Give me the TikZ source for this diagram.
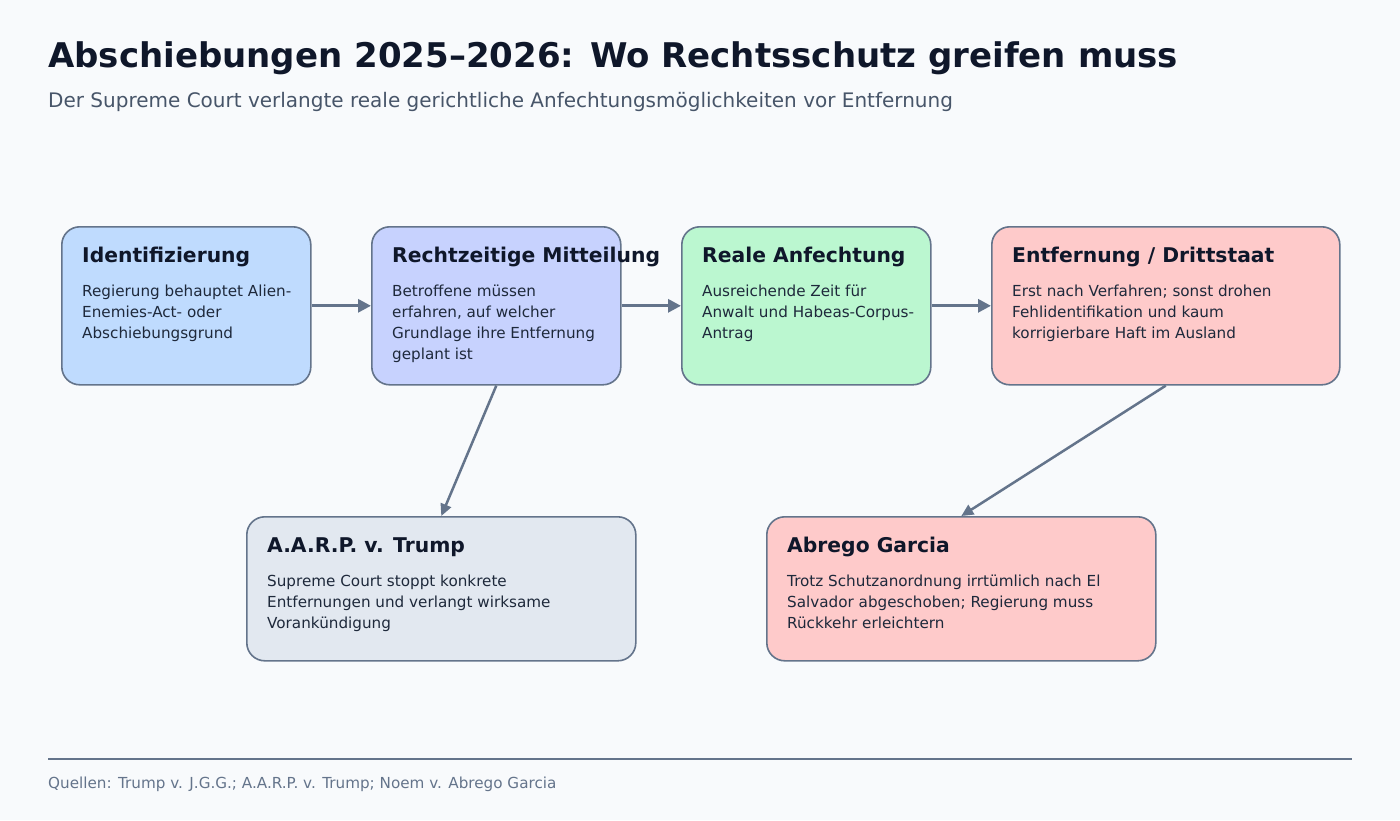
\documentclass[tikz,border=0pt]{standalone}
\usepackage{fontspec}
\setmainfont{DejaVu Sans}
\usetikzlibrary{arrows.meta}
\definecolor{bg}{HTML}{F8FAFC}
\definecolor{ink}{HTML}{0F172A}
\definecolor{txt}{HTML}{1E293B}
\definecolor{sub}{HTML}{475569}
\definecolor{edge}{HTML}{64748B}
\definecolor{cblue}{HTML}{BFDBFE}
\definecolor{cindigo}{HTML}{C7D2FE}
\definecolor{cgreen}{HTML}{BBF7D0}
\definecolor{cred}{HTML}{FECACA}
\definecolor{cslate}{HTML}{E2E8F0}
\tikzset{
  card/.style={draw=edge, line width=1.6pt, rounded corners=18pt, inner sep=0pt, anchor=north west},
  cardtitle/.style={anchor=base west, inner sep=0pt, font=\fontsize{20.3}{24}\selectfont\bfseries, text=ink},
  cardbody/.style={anchor=base west, inner sep=0pt, font=\fontsize{15.2}{21}\selectfont, text=txt, align=left},
  flow/.style={draw=edge, line width=3pt, -{Triangle[length=13pt,width=13pt]}},
  link/.style={draw=edge, line width=2.5pt, -{Triangle[length=12pt,width=11pt]}}
}
\begin{document}
\begin{tikzpicture}[x=1pt,y=-1pt]
\fill[bg] (0,0) rectangle (1400,820);
\useasboundingbox (0,0) rectangle (1400,820);

\node[anchor=base west, inner sep=0pt, font=\fontsize{34}{40}\selectfont\bfseries, text=ink] (title) at (48,67) {Abschiebungen 2025–2026: Wo Rechtsschutz greifen muss};
\node[anchor=base west, inner sep=0pt, font=\fontsize{20}{24}\selectfont, text=sub] (subtitle) at (48,107) {Der Supreme Court verlangte reale gerichtliche Anfechtungsmöglichkeiten vor Entfernung};

% cards
\node[card, fill=cblue, minimum width=249pt, minimum height=158pt] (b1) at (61,226) {};
\node[card, fill=cindigo, minimum width=249pt, minimum height=158pt] (b2) at (371,226) {};
\node[card, fill=cgreen, minimum width=249pt, minimum height=158pt] (b3) at (681,226) {};
\node[card, fill=cred, minimum width=348pt, minimum height=158pt] (b4) at (991,226) {};
\node[card, fill=cslate, minimum width=389pt, minimum height=144pt] (b5) at (246,516) {};
\node[card, fill=cred, minimum width=389pt, minimum height=144pt] (b6) at (766,516) {};

% arrows
\draw[flow] (b1.east) -- (b2.west);
\draw[flow] (b2.east) -- (b3.west);
\draw[flow] (b3.east) -- (b4.west);
\draw[link] (b2.south) -- (b5.north);
\draw[link] (b4.south) -- (b6.north);

% texts (body anchored at baseline of last line)
\node[cardtitle] (t1) at (82,262) {Identifizierung};
\node[cardbody] (d1) at (82,338) {Regierung behauptet Alien-\\Enemies-Act- oder\\Abschiebungsgrund};
\node[cardtitle] (t2) at (392,262) {Rechtzeitige Mitteilung};
\node[cardbody] (d2) at (392,359) {Betroffene müssen\\erfahren, auf welcher\\Grundlage ihre Entfernung\\geplant ist};
\node[cardtitle] (t3) at (702,262) {Reale Anfechtung};
\node[cardbody] (d3) at (702,338) {Ausreichende Zeit für\\Anwalt und Habeas-Corpus-\\Antrag};
\node[cardtitle] (t4) at (1012,262) {Entfernung / Drittstaat};
\node[cardbody] (d4) at (1012,338) {Erst nach Verfahren; sonst drohen\\Fehlidentifikation und kaum\\korrigierbare Haft im Ausland};
\node[cardtitle] (t5) at (267,552) {A.A.R.P. v. Trump};
\node[cardbody] (d5) at (267,628) {Supreme Court stoppt konkrete\\Entfernungen und verlangt wirksame\\Vorankündigung};
\node[cardtitle] (t6) at (787,552) {Abrego Garcia};
\node[cardbody] (d6) at (787,628) {Trotz Schutzanordnung irrtümlich nach El\\Salvador abgeschoben; Regierung muss\\Rückkehr erleichtern};

% footer
\coordinate (fl) at (48,759);
\coordinate (fr) at (1352,759);
\draw[edge, line width=1.6pt] (fl) -- (fr);
\node[anchor=base west, inner sep=0pt, font=\fontsize{15.2}{18}\selectfont, text=edge] (foot) at (48,788) {Quellen: Trump v. J.G.G.; A.A.R.P. v. Trump; Noem v. Abrego Garcia};
\end{tikzpicture}
\end{document}
